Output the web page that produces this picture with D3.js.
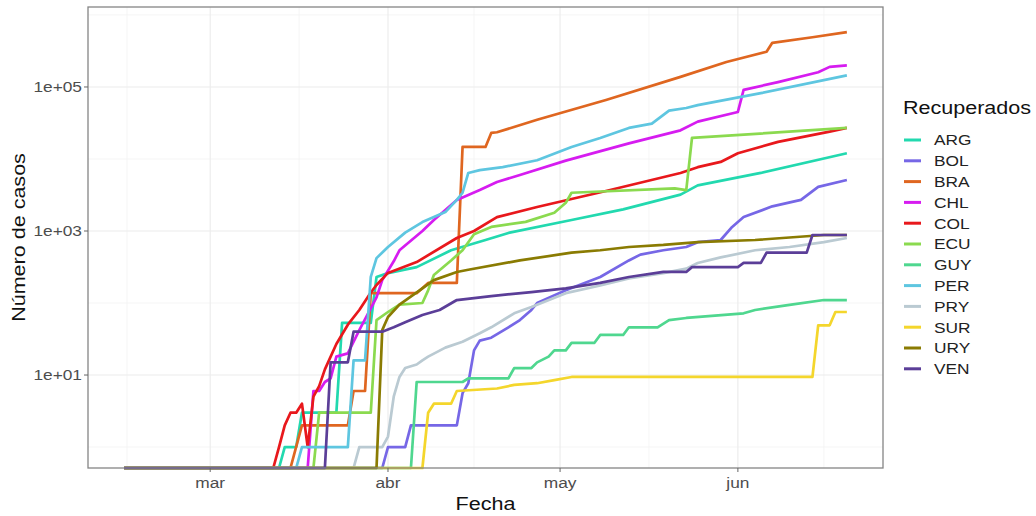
<!DOCTYPE html>
<html>
<head>
<meta charset="utf-8">
<script src="https://cdn.jsdelivr.net/npm/d3@7"></script>
<style>
  body { margin: 0; background: #fff; }
  text { font-family: "Liberation Sans", Arial, sans-serif; }
</style>
</head>
<body>
<svg id="chart" width="1036" height="516"></svg>
<script>

// series: [month-day 2020, recovered]; 0 = none yet (drawn on the bottom edge)
var ARG = [["02-15",0],["03-13",0],["03-14",1],["03-16",1],["03-17",3],["03-23",3],["03-24",53],["03-29",53],["03-30",230],
  ["04-01",260],["04-06",315],["04-12",540],["04-18",750],["04-22",940],["05-03",1420],["05-12",2000],["05-22",3200],
  ["05-25",4300],["06-05",6400],["06-20",12000]]
var BOL = [["02-15",0],["03-31",0],["04-01",1],["04-04",1],["04-05",2],["04-13",2],["04-14",5.6],["04-15",7.7],["04-16",22],
  ["04-17",30],["04-19",33],["04-22",46],["04-24",58],["04-26",80],["04-27",100],["05-02",150],["05-08",230],["05-13",390],
  ["05-15",470],["05-19",540],["05-23",600],["05-25",700],["05-29",750],["05-31",1140],["06-02",1560],["06-07",2200],
  ["06-12",2700],["06-15",4100],["06-20",5100]]
var BRA = [["02-15",0],["03-15",0],["03-17",2],["03-25",2],["03-26",6],["03-28",6],["03-29",137],["04-06",137],["04-08",190],
  ["04-13",190],["04-14",14700],["04-18",14700],["04-19",23000],["04-20",23500],["04-27",35000],["05-09",66000],
  ["05-22",138000],["05-30",222000],["06-06",308000],["06-07",410000],["06-14",490000],["06-20",577000]]
var CHL = [["02-15",0],["03-18",0],["03-19",6],["03-20",6],["03-21",8],["03-22",9],["03-23",18],["03-25",20],["03-27",42],
  ["03-30",120],["03-31",208],["04-02",380],["04-03",540],["04-07",1000],["04-09",1420],["04-13",2700],["04-17",3700],
  ["04-20",4800],["04-24",6000],["05-02",9500],["05-13",16500],["05-22",25000],["05-25",33000],["06-01",45000],
  ["06-02",91000],["06-08",117000],["06-15",160000],["06-17",190000],["06-20",200000]]
var COL = [["02-15",0],["03-12",0],["03-13",1],["03-14",2],["03-15",3],["03-16",3],["03-17",4],["03-18",1],["03-19",5],
  ["03-20",7],["03-21",12],["03-23",27],["03-25",50],["03-27",80],["03-29",140],["03-30",178],["04-01",262],["04-06",370],
  ["04-13",800],["04-16",1000],["04-20",1560],["04-27",2150],["05-09",3600],["05-22",6400],["05-25",7700],["05-29",9100],
  ["06-01",12000],["06-08",17300],["06-17",24000],["06-20",27000]]
var ECU = [["02-15",0],["03-19",0],["03-20",3],["03-29",3],["03-30",58],["04-01",75],["04-03",95],["04-07",100],["04-08",150],
  ["04-09",245],["04-12",390],["04-14",540],["04-16",900],["04-19",1140],["04-25",1340],["04-30",1790],["05-02",2460],
  ["05-03",3400],["05-21",3900],["05-23",3700],["05-24",19600],["06-20",27000]]
var GUY = [["02-15",0],["04-05",0],["04-06",8],["04-14",8],["04-15",9],["04-22",9],["04-23",12.5],["04-26",12.5],["04-27",15],
  ["04-29",18],["04-30",22],["05-02",22],["05-03",28],["05-07",28],["05-08",36],["05-12",36],["05-13",46],["05-18",46],
  ["05-20",58],["05-23",62],["06-02",72],["06-04",80],["06-10",94],["06-16",110],["06-20",110]]
var PER = [["02-15",0],["03-16",0],["03-17",1],["03-25",1],["03-26",16],["03-28",16],["03-29",230],["03-30",420],["04-01",600],
  ["04-04",950],["04-07",1330],["04-09",1560],["04-11",1830],["04-13",2700],["04-14",3400],["04-15",6400],["04-17",7000],
  ["04-21",7700],["04-27",9600],["05-03",14700],["05-08",19600],["05-13",27000],["05-17",31000],["05-20",47000],
  ["05-23",51000],["05-25",56000],["06-05",82000],["06-20",145000]]
var PRY = [["02-15",0],["03-26",0],["03-27",1],["03-31",1],["04-01",1.4],["04-02",5],["04-03",9.4],["04-04",12.5],["04-06",14],
  ["04-07",16],["04-08",18],["04-11",24],["04-14",29],["04-17",38],["04-19",46],["04-23",72],["04-26",88],["05-02",137],
  ["05-08",175],["05-13",220],["05-19",260],["05-23",300],["05-25",360],["05-29",430],["06-04",540],["06-10",600],
  ["06-16",700],["06-20",800]]
var SUR = [["02-15",0],["04-07",0],["04-08",3],["04-09",4],["04-12",4],["04-13",6],["04-20",6.5],["04-23",7.3],["04-27",7.7],
  ["04-30",8.5],["05-03",9.4],["06-14",9.4],["06-15",49],["06-17",49],["06-18",75],["06-20",75]]
var URY = [["02-15",0],["03-30",0],["03-31",42],["04-01",64],["04-03",95],["04-07",160],["04-09",208],["04-13",270],
  ["04-15",290],["04-24",390],["05-03",500],["05-08",540],["05-13",600],["05-19",640],["05-25",700],["06-04",750],
  ["06-16",880],["06-20",880]]
var VEN = [["02-15",0],["03-21",0],["03-22",15],["03-25",15],["03-26",40],["03-31",40],["04-02",46],["04-04",54],["04-07",68],
  ["04-10",80],["04-13",110],["04-19",125],["04-26",142],["05-02",160],["05-08",190],["05-13",230],["05-19",270],
  ["05-23",270],["05-24",315],["06-01",315],["06-02",360],["06-05",360],["06-06",500],["06-13",500],["06-14",880],
  ["06-20",880]]

var countries = ["ARG","BOL","BRA","CHL","COL","ECU","GUY","PER","PRY","SUR","URY","VEN"]
var series_values = [ARG, BOL, BRA, CHL, COL, ECU, GUY, PER, PRY, SUR, URY, VEN]
var colors = ["#22D9AF","#7667E6","#DF6620","#D61CF0","#E8181C","#8BDA4F","#4FD78F","#5EC6E0","#BACAD2","#F4D62C","#8A7B02","#5B3E98"]

var x_ticks = ["2020-03-01","2020-04-01","2020-05-01","2020-06-01"]
var x_tick_labels = ["mar","abr","may","jun"]
var x_grid_months = ["2020-02-01","2020-03-01","2020-04-01","2020-05-01","2020-06-01","2020-07-01"]
var y_ticks = [1e1, 1e3, 1e5]
var y_tick_labels = ["1e+01","1e+03","1e+05"]
var y_minor = [1e0, 1e2, 1e4, 1e6]
var y_limits = [1, 660000]

var stretch = 1.14
var panel = {left: 88, right: 883, top: 7, bottom: 468}
var parse = d3.timeParse("%Y-%m-%d")

var svg = d3.select("#chart")

var all_dates = series_values[0].map(function(p){ return parse("2020-" + p[0]) })
var first = d3.min(all_dates), last = d3.max(series_values.map(function(s){ return parse("2020-" + s[s.length - 1][0]) }))
var pad = (last - first) * 0.05
var x = d3.scaleTime()
  .domain([new Date(+first - pad), new Date(+last + pad)])
  .range([panel.left, panel.right])

var lo = Math.log10(y_limits[0]), hi = Math.log10(y_limits[1])
var ypad = (hi - lo) * 0.05
var y = d3.scaleLog()
  .domain([Math.pow(10, lo - ypad), Math.pow(10, hi + ypad)])
  .range([panel.bottom, panel.top])

function add_text(sel, px, py, s, size, anchor, fill, rot){
  var tr = "translate(" + px + "," + py + ")" + (rot ? " rotate(" + rot + ")" : "") + " scale(" + stretch + ",1)"
  return sel.append("text")
    .attr("transform", tr)
    .attr("text-anchor", anchor)
    .attr("font-size", size)
    .attr("fill", fill)
    .text(s)
}

// grid
var grid = svg.append("g")
var minor_x = d3.pairs(x_grid_months.map(parse)).map(function(p){ return new Date((+p[0] + +p[1]) / 2) })
grid.selectAll("line.vminor").data(minor_x).enter().append("line")
  .attr("x1", function(d){ return x(d) }).attr("x2", function(d){ return x(d) })
  .attr("y1", panel.top).attr("y2", panel.bottom)
  .attr("stroke", "#F3F3F3").attr("stroke-width", 0.8)
grid.selectAll("line.hminor").data(y_minor).enter().append("line")
  .attr("x1", panel.left).attr("x2", panel.right)
  .attr("y1", function(d){ return y(d) }).attr("y2", function(d){ return y(d) })
  .attr("stroke", "#F3F3F3").attr("stroke-width", 0.8)
grid.selectAll("line.vmajor").data(x_ticks.map(parse)).enter().append("line")
  .attr("x1", function(d){ return x(d) }).attr("x2", function(d){ return x(d) })
  .attr("y1", panel.top).attr("y2", panel.bottom)
  .attr("stroke", "#EBEBEB").attr("stroke-width", 1.1)
grid.selectAll("line.hmajor").data(y_ticks).enter().append("line")
  .attr("x1", panel.left).attr("x2", panel.right)
  .attr("y1", function(d){ return y(d) }).attr("y2", function(d){ return y(d) })
  .attr("stroke", "#EBEBEB").attr("stroke-width", 1.1)

// lines
var line = d3.line()
  .x(function(p){ return x(parse("2020-" + p[0])) })
  .y(function(p){ return p[1] > 0 ? y(p[1]) : panel.bottom })

svg.append("g").selectAll("path").data(series_values).enter().append("path")
  .attr("fill", "none")
  .attr("stroke", function(d, i){ return colors[i] })
  .attr("stroke-width", 2.7)
  .attr("stroke-linejoin", "round")
  .attr("d", line)

// panel border
svg.append("rect")
  .attr("x", panel.left).attr("y", panel.top)
  .attr("width", panel.right - panel.left).attr("height", panel.bottom - panel.top)
  .attr("fill", "none").attr("stroke", "#858585").attr("stroke-width", 1.3)

// axes
var axes = svg.append("g")
y_ticks.forEach(function(t, i){
  axes.append("line").attr("x1", panel.left - 4).attr("x2", panel.left)
    .attr("y1", y(t)).attr("y2", y(t)).attr("stroke", "#666").attr("stroke-width", 1)
  add_text(axes, panel.left - 6, y(t) + 5.4, y_tick_labels[i], 15.2, "end", "#4D4D4D")
})
x_ticks.forEach(function(t, i){
  var px = x(parse(t))
  axes.append("line").attr("x1", px).attr("x2", px)
    .attr("y1", panel.bottom).attr("y2", panel.bottom + 4).attr("stroke", "#666").attr("stroke-width", 1)
  add_text(axes, px, 488, x_tick_labels[i], 15.2, "middle", "#4D4D4D")
})
add_text(axes, (panel.left + panel.right) / 2, 510, "Fecha", 18.9, "middle", "#111")
add_text(axes, 25, (panel.top + panel.bottom) / 2, "Número de casos", 18.9, "middle", "#111", -90)

// legend
var legend = svg.append("g")
add_text(legend, 903, 114, "Recuperados", 18.9, "start", "#111")
countries.forEach(function(c, i){
  var ly = 140 + i * 20.8
  legend.append("line").attr("x1", 904).attr("x2", 921).attr("y1", ly).attr("y2", ly)
    .attr("stroke", colors[i]).attr("stroke-width", 3)
  add_text(legend, 934, ly + 5.4, c, 15.2, "start", "#222")
})

</script>
</body>
</html>
